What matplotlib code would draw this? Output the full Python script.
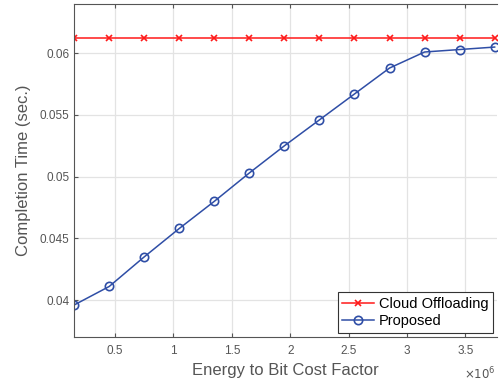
import matplotlib.pyplot as plt
import numpy as np

plt.rcParams['font.family'] = ['Liberation Sans', 'DejaVu Sans']

# energy to bit cost factor (x 1e6)
cost_factor = [0.15, 0.45, 0.75, 1.05, 1.35, 1.65, 1.95, 2.25, 2.55, 2.85, 3.15, 3.45, 3.75]
cloud_time = [0.0612] * 13
proposed_time = [0.0396, 0.0411, 0.0435, 0.0458, 0.0480, 0.0503, 0.0525, 0.0546,
                 0.0567, 0.0588, 0.0601, 0.0603, 0.0605]

fig = plt.figure(figsize=(5.01, 3.87), dpi=100)
ax = fig.add_axes([0.148, 0.129, 0.844, 0.861])

ax.plot(cost_factor, cloud_time, color='#ff1a1a', marker='x', markersize=4,
        markeredgewidth=1.2, linewidth=1.1, label='Cloud Offloading')
ax.plot(cost_factor, proposed_time, color='#2f4ea6', marker='o', markersize=6,
        markerfacecolor='none', markeredgewidth=1.2, linewidth=1.1, label='Proposed')

ax.set_xlim(0.15, 3.77)
ax.set_ylim(0.037, 0.064)
ax.set_xticks([0.5, 1, 1.5, 2, 2.5, 3, 3.5])
ax.set_xticklabels(['0.5', '1', '1.5', '2', '2.5', '3', '3.5'])
ax.set_yticks([0.04, 0.045, 0.05, 0.055, 0.06])
ax.set_yticklabels(['0.04', '0.045', '0.05', '0.055', '0.06'])

ax.grid(True, color='#e3e3e3', linewidth=0.9)
ax.set_axisbelow(True)
ax.tick_params(colors='#555555', labelsize=8.5, direction='in', length=3,
               top=True, right=False)
ax.tick_params(axis='x', pad=6)
for s in ax.spines.values():
    s.set_color('#555555')
    s.set_linewidth(0.8)
ax.spines['right'].set_visible(False)

ax.set_xlabel('Energy to Bit Cost Factor', fontsize=12, color='#555555', labelpad=4)
ax.set_ylabel('Completion Time (sec.)', fontsize=12, color='#555555', labelpad=6)
ax.text(0.997, -0.11, r'$\times10^6$', transform=ax.transAxes, ha='right',
        va='center', fontsize=8.5, color='#555555')

leg = ax.legend(loc='lower right', fontsize=10.5, fancybox=False, framealpha=1,
                edgecolor='#333333', handlelength=2.2, handletextpad=0.3,
                borderpad=0.3, labelspacing=0.25, borderaxespad=0.3)
leg.get_frame().set_linewidth(0.8)

fig.savefig('out.png', dpi=100)
